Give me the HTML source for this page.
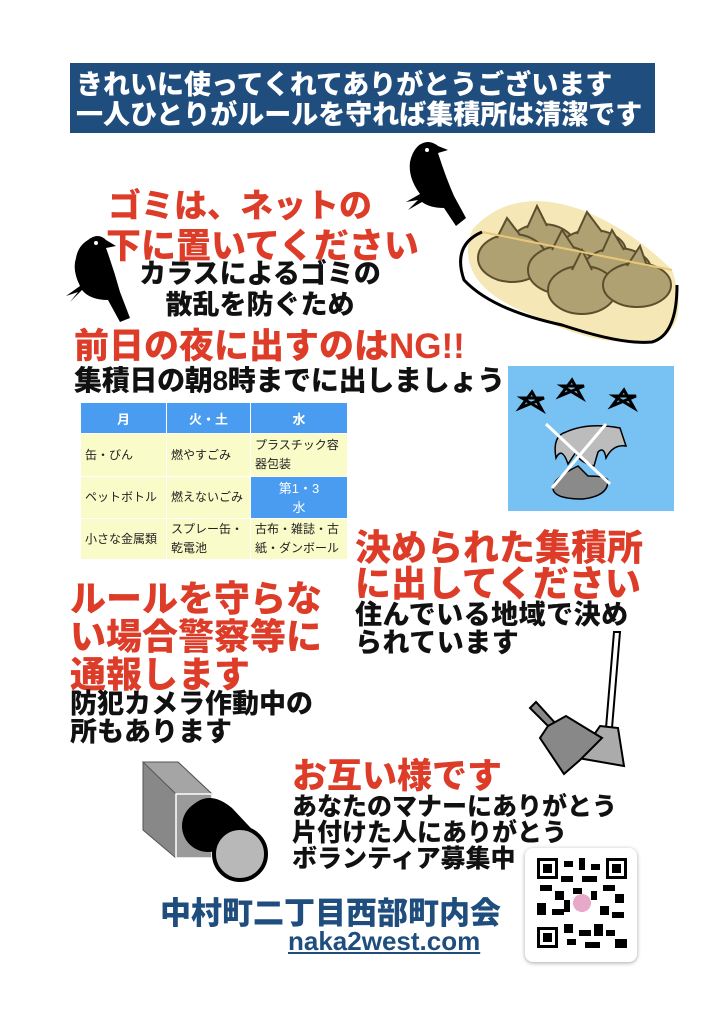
<!DOCTYPE html>
<html><head><meta charset="utf-8"><style>
body{margin:0;width:724px;height:1024px;background:#fff;position:relative;overflow:hidden;font-family:"Liberation Sans","Noto Sans CJK JP",sans-serif;font-weight:900}
.a{position:absolute;white-space:nowrap;line-height:1}
.r{color:#dc3c28}
.k{color:#111}
table{position:absolute;left:80px;top:402px;width:267px;table-layout:fixed;border-collapse:collapse;font-size:12px;font-weight:400;color:#222}
td{border:1px solid #fff;padding:0 4px;background:#f9fbc8;line-height:19px;white-space:normal;word-break:break-all}
th{background:#4a9cf0;color:#fff;font-weight:700;height:28px;font-size:13px;border:1px solid #fff}
</style></head><body>
<div class="a" style="left:70px;top:63px;width:585px;height:70px;background:#1f4e7e"></div>
<div class="a" style="left:76px;top:70px;color:#fff;font-size:27px;line-height:30px">きれいに使ってくれてありがとうございます<br>一人ひとりがルールを守れば集積所は清潔です</div>

<div class="a r" style="left:108px;top:186px;font-size:33px;line-height:40px">ゴミは、ネットの</div>
<div class="a r" style="left:106px;top:227px;font-size:35px;line-height:40px">下に置いてください</div>
<div class="a k" style="left:120px;top:259px;width:280px;text-align:center;font-size:27px;line-height:31px">カラスによるゴミの<br>散乱を防ぐため</div>

<svg class="a" style="left:60px;top:230px" width="80" height="95" viewBox="0 0 80 95"><path d="M28 10 Q38 2 46 10 L56 16 L46 18 Q54 40 60 62 L70 88 L60 92 L48 70 Q30 70 22 60 L10 72 L18 62 L6 66 L20 56 Q12 40 16 28 Q18 16 28 10Z" fill="#000"/><circle cx="36" cy="13" r="2" fill="#fff"/></svg>
<svg class="a" style="left:400px;top:138px" width="72" height="95" viewBox="0 0 72 95"><path d="M18 8 Q28 0 38 8 L48 12 L38 15 Q46 40 54 58 L66 80 L56 88 L44 70 Q30 70 22 64 L8 72 L18 62 L6 64 L20 56 Q8 40 10 24 Q12 14 18 8Z" fill="#000"/><circle cx="27" cy="12" r="2" fill="#fff"/></svg>

<svg class="a" style="left:452px;top:190px" width="240" height="155" viewBox="0 0 240 155">
<path d="M20 40 Q60 -5 130 20 Q180 40 220 80 Q240 140 200 150 Q150 160 80 125 Q0 95 20 40Z" fill="#f6e7b6"/>
<g fill="#b0a173" stroke="#5c4f2e" stroke-width="2">
<ellipse cx="90" cy="58" rx="34" ry="24"/><path d="M75 38 L85 16 L95 36"/>
<ellipse cx="140" cy="62" rx="34" ry="22"/><path d="M125 44 L135 22 L150 42"/>
<ellipse cx="60" cy="68" rx="34" ry="24"/><path d="M45 48 L55 28 L68 45"/>
<ellipse cx="110" cy="80" rx="34" ry="24"/><path d="M100 60 L110 40 L122 58"/>
<ellipse cx="165" cy="80" rx="34" ry="22"/><path d="M150 62 L160 40 L172 60"/>
<ellipse cx="130" cy="100" rx="34" ry="24"/><path d="M120 80 L130 60 L140 80"/>
<ellipse cx="185" cy="95" rx="34" ry="22"/><path d="M175 76 L188 56 L195 76"/>
</g>
<path d="M30 42 L220 80" stroke="#e8c878" stroke-width="2"/>
<path d="M30 42 Q0 55 12 90 Q40 120 110 135 Q170 155 200 152 Q225 145 225 95" fill="none" stroke="#000" stroke-width="3"/>
</svg>

<div class="a r" style="left:74px;top:329px;font-size:35px">前日の夜に出すのはNG!!</div>
<div class="a k" style="left:74px;top:367px;font-size:28px;letter-spacing:-0.3px">集積日の朝8時までに出しましょう</div>

<svg class="a" style="left:508px;top:366px" width="166" height="145" viewBox="0 0 166 145">
<rect width="166" height="145" fill="#77c2f2"/>
<g fill="none" stroke="#000" stroke-width="3"><path d="M12 42 L24 26 L34 44 L14 32 L36 32Z"/><path d="M52 30 L64 14 L74 32 L54 20 L76 20Z"/><path d="M104 40 L116 24 L126 42 L106 30 L128 30Z"/></g>
<path d="M48 92 Q44 70 58 66 Q80 56 112 62 L118 80 Q105 78 98 92 Q96 80 90 86 L86 100 Q70 96 68 86 L60 98 Q54 80 48 92Z" fill="#bcbcbc" stroke="#000" stroke-width="1.5"/>
<path d="M70 100 L80 110 Q100 110 100 115 Q100 130 75 133 Q45 133 45 122 Q45 112 70 100Z" fill="#8a8a8a" stroke="#000" stroke-width="1.5"/>
<path d="M38 58 L102 118 M98 58 L44 122" stroke="#fff" stroke-width="3"/>
</svg>

<table>
<colgroup><col style="width:86px"><col style="width:84px"><col style="width:97px"></colgroup>
<tr><th>月</th><th>火・土</th><th>水</th></tr>
<tr><td style="height:42px">缶・びん</td><td>燃やすごみ</td><td>プラスチック容器包装</td></tr>
<tr><td style="height:41px">ペットボトル</td><td>燃えないごみ</td><td style="background:#4a9cf0;color:#fff;text-align:center;font-size:13px">第1・3<br>水</td></tr>
<tr><td style="height:40px">小さな金属類</td><td>スプレー缶・乾電池</td><td>古布・雑誌・古紙・ダンボール</td></tr>
</table>

<div class="a r" style="left:355px;top:530px;font-size:36px;line-height:36px">決められた集積所<br>に出してください</div>
<div class="a k" style="left:355px;top:601px;font-size:27px;line-height:28px;letter-spacing:0.5px">住んでいる地域で決め<br>られています</div>

<div class="a r" style="left:70px;top:580px;font-size:36px;line-height:38px">ルールを守らな<br>い場合警察等に<br>通報します</div>
<div class="a k" style="left:70px;top:690px;font-size:27px;line-height:28px">防犯カメラ作動中の<br>所もあります</div>

<svg class="a" style="left:520px;top:628px" width="110" height="150" viewBox="0 0 110 150">
<path d="M94 4 L100 4 L92 100 L86 100Z" fill="#fff" stroke="#000" stroke-width="2"/>
<path d="M80 98 L98 100 L104 138 L58 130Z" fill="#ababab" stroke="#000" stroke-width="2"/>
<path d="M10 80 L16 74 L36 96 L30 100Z" fill="#888" stroke="#000" stroke-width="2"/>
<path d="M28 98 L46 88 L82 110 L60 132 L44 146 L20 110Z" fill="#888" stroke="#000" stroke-width="2"/>
</svg>

<svg class="a" style="left:140px;top:758px" width="130" height="124" viewBox="0 0 130 124">
<path d="M3 4 L38 4 L72 36 L72 100 L36 100 L3 72Z" fill="#888" stroke="#555"/>
<path d="M3 4 L38 4 L72 36 L36 36Z" fill="#a5a5a5" stroke="#555"/>
<rect x="36" y="36" width="36" height="64" fill="#9a9a9a" stroke="#fff" stroke-width="1.5"/>
<path d="M50 50 Q68 30 92 50 L122 82 L82 114 Z" fill="#000"/>
<circle cx="68" cy="68" r="26" fill="#000"/>
<circle cx="100" cy="96" r="26" fill="#b8b8b8" stroke="#000" stroke-width="4"/>
</svg>

<div class="a r" style="left:292px;top:759px;font-size:35px">お互い様です</div>
<div class="a k" style="left:292px;top:794px;font-size:25px;line-height:26px">あなたのマナーにありがとう<br>片付けた人にありがとう<br>ボランティア募集中</div>

<div class="a" style="left:525px;top:848px;width:112px;height:114px;background:#fff;border-radius:8px;box-shadow:0 1px 4px rgba(0,0,0,.35)"></div>
<svg class="a" style="left:537px;top:858px" width="90" height="90" viewBox="0 0 30 30" shape-rendering="crispEdges">
<g fill="#000">
<rect x="0" y="0" width="7" height="7"/><rect x="23" y="0" width="7" height="7"/><rect x="0" y="23" width="7" height="7"/>
</g><g fill="#fff"><rect x="1" y="1" width="5" height="5"/><rect x="24" y="1" width="5" height="5"/><rect x="1" y="24" width="5" height="5"/></g>
<g fill="#000"><rect x="2" y="2" width="3" height="3"/><rect x="25" y="2" width="3" height="3"/><rect x="2" y="25" width="3" height="3"/>
<rect x="9" y="1" width="3" height="2"/><rect x="14" y="0" width="2" height="4"/><rect x="18" y="2" width="3" height="2"/>
<rect x="8" y="6" width="4" height="2"/><rect x="15" y="6" width="5" height="2"/><rect x="1" y="9" width="4" height="2"/>
<rect x="6" y="11" width="3" height="3"/><rect x="22" y="9" width="4" height="2"/><rect x="26" y="12" width="3" height="3"/>
<rect x="0" y="15" width="3" height="4"/><rect x="5" y="17" width="4" height="2"/><rect x="21" y="16" width="3" height="3"/>
<rect x="25" y="18" width="4" height="2"/><rect x="9" y="22" width="3" height="3"/><rect x="14" y="24" width="4" height="2"/>
<rect x="19" y="22" width="3" height="4"/><rect x="10" y="27" width="3" height="2"/><rect x="16" y="28" width="5" height="2"/>
<rect x="23" y="24" width="3" height="2"/><rect x="26" y="27" width="4" height="3"/><rect x="9" y="14" width="2" height="4"/>
<rect x="12" y="10" width="3" height="2"/><rect x="18" y="11" width="2" height="3"/></g>
<circle cx="15" cy="15" r="3" fill="#e8a8c8"/>
</svg>

<div class="a" style="left:160px;top:898px;color:#1f4e7e;font-size:31px">中村町二丁目西部町内会</div>
<div class="a" style="left:288px;top:928px;color:#1f4e7e;font-size:26px;text-decoration:underline;font-weight:700">naka2west.com</div>
</body></html>
